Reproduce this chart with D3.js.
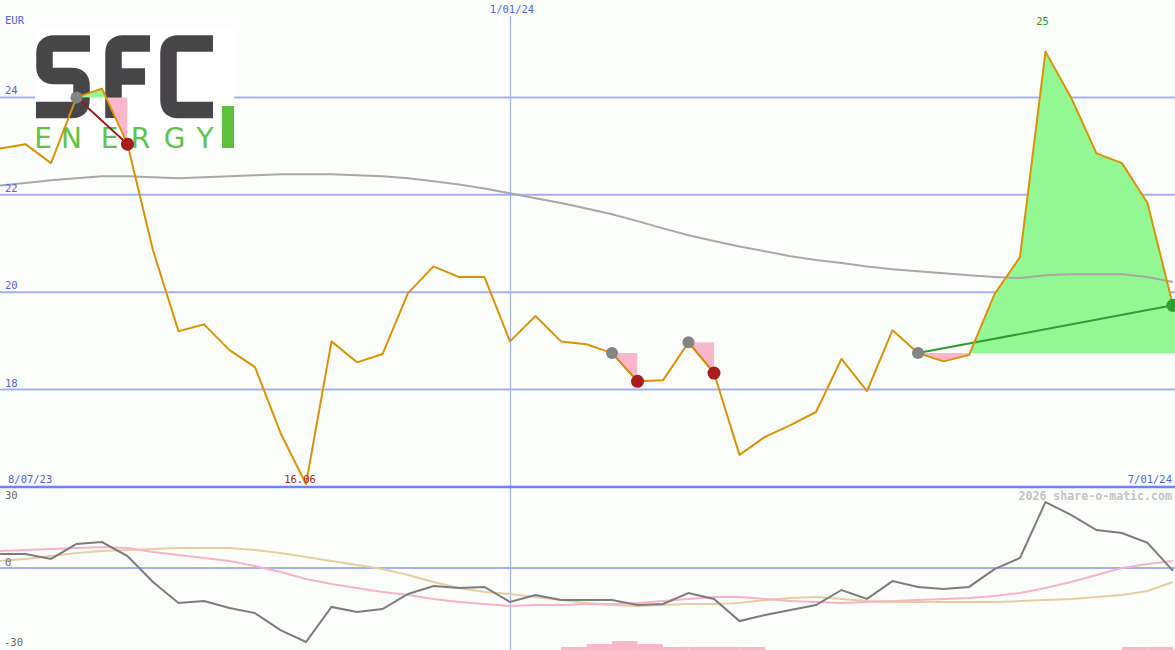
<!DOCTYPE html>
<html>
<head>
<meta charset="utf-8">
<script src="https://cdn.jsdelivr.net/npm/d3@7"></script>
<style>
html,body{margin:0;padding:0;background:#fcfefc;}
svg{display:block;}
</style>
</head>
<body>
<svg id="chart" width="1175" height="650"></svg>
<script>
// ---------- DATA ----------
const price = [22.95,23.04,22.65,24.00,24.18,23.04,20.86,19.20,19.34,18.81,18.46,17.11,16.06,18.99,18.56,18.73,19.98,20.53,20.31,20.31,18.99,19.51,18.99,18.93,18.75,18.17,18.19,18.97,18.34,16.66,17.03,17.27,17.54,18.63,17.97,19.22,18.75,18.58,18.71,19.96,20.72,24.94,24.00,22.85,22.65,21.83,19.73];
const priceMA = [22.19,22.24,22.30,22.34,22.38,22.38,22.36,22.34,22.36,22.38,22.40,22.42,22.42,22.42,22.40,22.38,22.34,22.28,22.21,22.13,22.03,21.93,21.83,21.72,21.60,21.46,21.31,21.17,21.05,20.94,20.84,20.74,20.66,20.60,20.53,20.47,20.43,20.39,20.35,20.31,20.29,20.35,20.37,20.37,20.37,20.31,20.21];
const momentum = [5.25,5.25,3.38,9.0,9.75,4.5,-5.25,-13.1,-12.4,-15.0,-16.9,-23.3,-27.75,-14.6,-16.5,-15.4,-9.75,-6.75,-7.5,-7.1,-12.75,-10.1,-12.0,-12.0,-12.0,-13.9,-13.5,-9.4,-11.6,-19.9,-17.6,-15.75,-13.9,-8.25,-11.6,-4.9,-7.1,-7.9,-7.1,-0.4,3.75,24.75,19.9,14.25,13.1,9.4,-1.1];
const momPink = [6.4,6.75,7.1,7.5,7.9,7.5,6.0,4.9,3.75,2.6,0.75,-1.5,-4.1,-6.0,-7.5,-9.0,-10.1,-11.6,-12.75,-13.5,-14.25,-13.9,-13.9,-13.5,-13.5,-13.1,-12.4,-11.6,-10.9,-10.9,-11.6,-12.4,-12.75,-13.1,-12.75,-12.4,-12.0,-11.6,-11.25,-10.5,-9.4,-7.5,-5.25,-2.6,0,1.5,2.6];
const momTan = [2.6,3.4,4.5,5.6,6.4,6.75,7.1,7.5,7.5,7.5,6.75,5.6,4.1,2.6,1.1,-0.4,-2.6,-5.25,-7.5,-9.0,-9.75,-10.9,-12.0,-13.1,-13.9,-14.25,-13.9,-13.5,-13.5,-13.1,-12.0,-11.25,-10.9,-11.6,-12.4,-12.75,-12.75,-12.75,-12.75,-12.75,-12.4,-12.0,-11.6,-10.9,-10.1,-8.6,-5.25];
const volBars = [0,0,0,0,0,0,0,0,0,0,0,0,0,0,0,0,0,0,0,0,0,0,1,2,3,2,1,1,1,1,0,0,0,0,0,0,0,0,0,0,0,0,0,0,1,1,0];

const priceTicks = [24,22,20,18];
const priceUnit = "EUR";
const oscTicks = ["30","0","-30"];
const oscTickVals = [30,0,-30];
const dateTickIdx = [0,20,46];
const dateTickLabels = ["8/07/23","1/01/24","7/01/24"];
const hiIdx = 41, hiLabel = "25";
const loIdx = 12, loLabel = "16.06";
const sigStart = [3,24,27,36];
const sigEnd   = [5,25,28,46];
const sigDir   = ["down","down","down","up"];
const watermark = "2026 share-o-matic.com";

// ---------- SCALES ----------
const W = 1175, H = 650;
const svg = d3.select("#chart");
const x = d3.scaleLinear().domain([0, price.length - 1]).range([0, 1173]);
const yP = d3.scaleLinear().domain([16, 26]).range([487, 0]);
const yO = d3.scaleLinear().domain([-30, 30]).range([648, 488]);
const yV = d3.scaleLinear().domain([0, 3]).range([650, 641]);

const mono = "'DejaVu Sans Mono', monospace";
const blueTxt = "#4f5ff0";
const grid = "#a3b1f2";

svg.append("rect").attr("width", W).attr("height", H).attr("fill", "#fcfefc");

// ---------- GRID ----------
svg.selectAll("line.pg").data(priceTicks).join("line")
  .attr("x1", 0).attr("x2", W)
  .attr("y1", d => yP(d)).attr("y2", d => yP(d))
  .attr("stroke", grid).attr("stroke-width", 2);
svg.append("line")
  .attr("x1", x(dateTickIdx[1]) + 0.5).attr("x2", x(dateTickIdx[1]) + 0.5)
  .attr("y1", 16).attr("y2", H)
  .attr("stroke", grid).attr("stroke-width", 1.2);
svg.append("line").attr("x1", 0).attr("x2", W)
  .attr("y1", yO(0)).attr("y2", yO(0))
  .attr("stroke", grid).attr("stroke-width", 2);
svg.append("line").attr("x1", 0).attr("x2", W)
  .attr("y1", yP(16)).attr("y2", yP(16))
  .attr("stroke", "#7383ea").attr("stroke-width", 2.5);

// ---------- LOGO ----------
const logo = svg.append("g");
logo.append("rect").attr("x", 35).attr("y", 28).attr("width", 199).attr("height", 124).attr("fill", "#ffffff");
const dark = "#474548";
logo.append("path")
  .attr("d", "M90,43.5 H54 Q44.5,43.5 44.5,53 V67 Q44.5,76 54,76 H72 Q81.5,76 81.5,85.5 V100 Q81.5,110 72,110 H36")
  .attr("fill", "none").attr("stroke", dark).attr("stroke-width", 16.5);
logo.append("path")
  .attr("d", "M150,43.5 H123 Q113.5,43.5 113.5,53 V118 M113.5,76.5 H145")
  .attr("fill", "none").attr("stroke", dark).attr("stroke-width", 16.5);
logo.append("path")
  .attr("d", "M213,43.5 H178 Q168.5,43.5 168.5,53 V100 Q168.5,110 178,110 H213")
  .attr("fill", "none").attr("stroke", dark).attr("stroke-width", 16.5);
const energy = ["E","N","E","R","G","Y"];
const energyX = [43,71.5,109.5,140.5,174.5,205];
logo.selectAll("text.en").data(energy).join("text")
  .attr("x", (d, i) => energyX[i]).attr("y", 148)
  .attr("text-anchor", "middle")
  .attr("font-family", "'DejaVu Sans', sans-serif")
  .attr("font-size", 28).attr("fill", "#5ec447").text(d => d);
logo.append("rect").attr("x", 222).attr("y", 106).attr("width", 12).attr("height", 42).attr("fill", "#5dc13f");

// ---------- SIGNAL FILLS ----------
const defs = svg.append("defs");
sigStart.forEach((s, k) => {
  const e = sigEnd[k];
  const lvl = price[s];
  const last = k === sigStart.length - 1;
  const xs = x(s), xe = last ? W : x(e);
  const pts = d3.range(s, e + 1).map(i => [x(i), yP(price[i])]);
  if (last) pts.push([W, yP(price[e])]);
  const area = d3.area().x(v => v[0]).y0(yP(lvl)).y1(v => v[1]);
  const ca = defs.append("clipPath").attr("id", "ca" + k);
  ca.append("rect").attr("x", xs).attr("y", 0).attr("width", xe - xs).attr("height", yP(lvl));
  const cb = defs.append("clipPath").attr("id", "cb" + k);
  cb.append("rect").attr("x", xs).attr("y", yP(lvl)).attr("width", xe - xs).attr("height", 487 - yP(lvl));
  const d = area(pts);
  svg.append("path").attr("d", d).attr("fill", "#93f893").attr("clip-path", `url(#ca${k})`);
  svg.append("path").attr("d", d).attr("fill", "#f9b7cb").attr("clip-path", `url(#cb${k})`);
});

// ---------- MAIN LINES ----------
const lineP = d3.line().x((d, i) => x(i)).y(d => yP(d));
svg.append("path").attr("d", lineP(priceMA)).attr("fill", "none")
  .attr("stroke", "#a8a8a8").attr("stroke-width", 2);

sigStart.forEach((s, k) => {
  const e = sigEnd[k];
  svg.append("line")
    .attr("x1", x(s)).attr("y1", yP(price[s]))
    .attr("x2", x(e)).attr("y2", yP(price[e]))
    .attr("stroke", sigDir[k] === "up" ? "#2e9e2e" : "#a01818")
    .attr("stroke-width", sigDir[k] === "up" ? 2 : 1.5);
});

svg.append("path").attr("d", lineP(price)).attr("fill", "none")
  .attr("stroke", "#dd9206").attr("stroke-width", 2).attr("stroke-linejoin", "round");

svg.append("line")
  .attr("x1", x(sigStart[0])).attr("y1", yP(price[sigStart[0]]))
  .attr("x2", x(sigEnd[0])).attr("y2", yP(price[sigEnd[0]]))
  .attr("stroke", "#a01818").attr("stroke-width", 1.5);

sigStart.forEach((s, k) => {
  const e = sigEnd[k];
  svg.append("circle").attr("cx", x(s)).attr("cy", yP(price[s])).attr("r", 6).attr("fill", "#838383");
  svg.append("circle").attr("cx", x(e)).attr("cy", yP(price[e])).attr("r", 6.5)
    .attr("fill", sigDir[k] === "up" ? "#2e9e2e" : "#a81c1c");
});

// ---------- OSCILLATOR PANEL ----------
svg.selectAll("rect.vb").data(volBars).join("rect")
  .attr("x", (d, i) => x(i)).attr("width", (d, i) => x(i + 1) - x(i))
  .attr("y", d => yV(d)).attr("height", d => 650 - yV(d))
  .attr("fill", "#f9b7cb");
const lineO = d3.line().x((d, i) => x(i)).y(d => yO(d));
svg.append("path").attr("d", lineO(momTan)).attr("fill", "none").attr("stroke", "#e4cf9f").attr("stroke-width", 2);
svg.append("path").attr("d", lineO(momPink)).attr("fill", "none").attr("stroke", "#f9b2c8").attr("stroke-width", 2);
svg.append("path").attr("d", lineO(momentum)).attr("fill", "none").attr("stroke", "#7c7c7c").attr("stroke-width", 2);

// ---------- TEXT ----------
const txt = (xx, yy, s, fill, anchor) => svg.append("text").attr("x", xx).attr("y", yy)
  .attr("text-anchor", anchor || "start").attr("font-family", mono).attr("font-size", 10.5)
  .attr("fill", fill).text(s);
txt(5, 24, priceUnit, blueTxt);
svg.selectAll("text.pt").data(priceTicks).join("text")
  .attr("x", 5).attr("y", d => yP(d) - 3)
  .attr("font-family", mono).attr("font-size", 10.5).attr("fill", blueTxt).text(d => d);
txt(x(dateTickIdx[1]) + 2, 13, dateTickLabels[1], blueTxt, "middle");
txt(8, 483, dateTickLabels[0], blueTxt);
txt(1172, 483, dateTickLabels[2], blueTxt, "end");
txt(x(loIdx) - 6, 483, loLabel, "#a81c1c", "middle");
txt(x(hiIdx) - 3, 25, hiLabel, "#24a024", "middle");
txt(5, yO(oscTickVals[0]) + 11, oscTicks[0], "#6a6a6a");
txt(5, yO(oscTickVals[1]) - 2, oscTicks[1], "#6a6a6a");
txt(4, yO(oscTickVals[2]) - 2, oscTicks[2], "#6a6a6a");
svg.append("text").attr("x", 1172).attr("y", 500).attr("text-anchor", "end")
  .attr("font-family", mono).attr("font-weight", "bold").attr("font-size", 11.6)
  .attr("fill", "#c4c4c4").text(watermark);
</script>
</body>
</html>
